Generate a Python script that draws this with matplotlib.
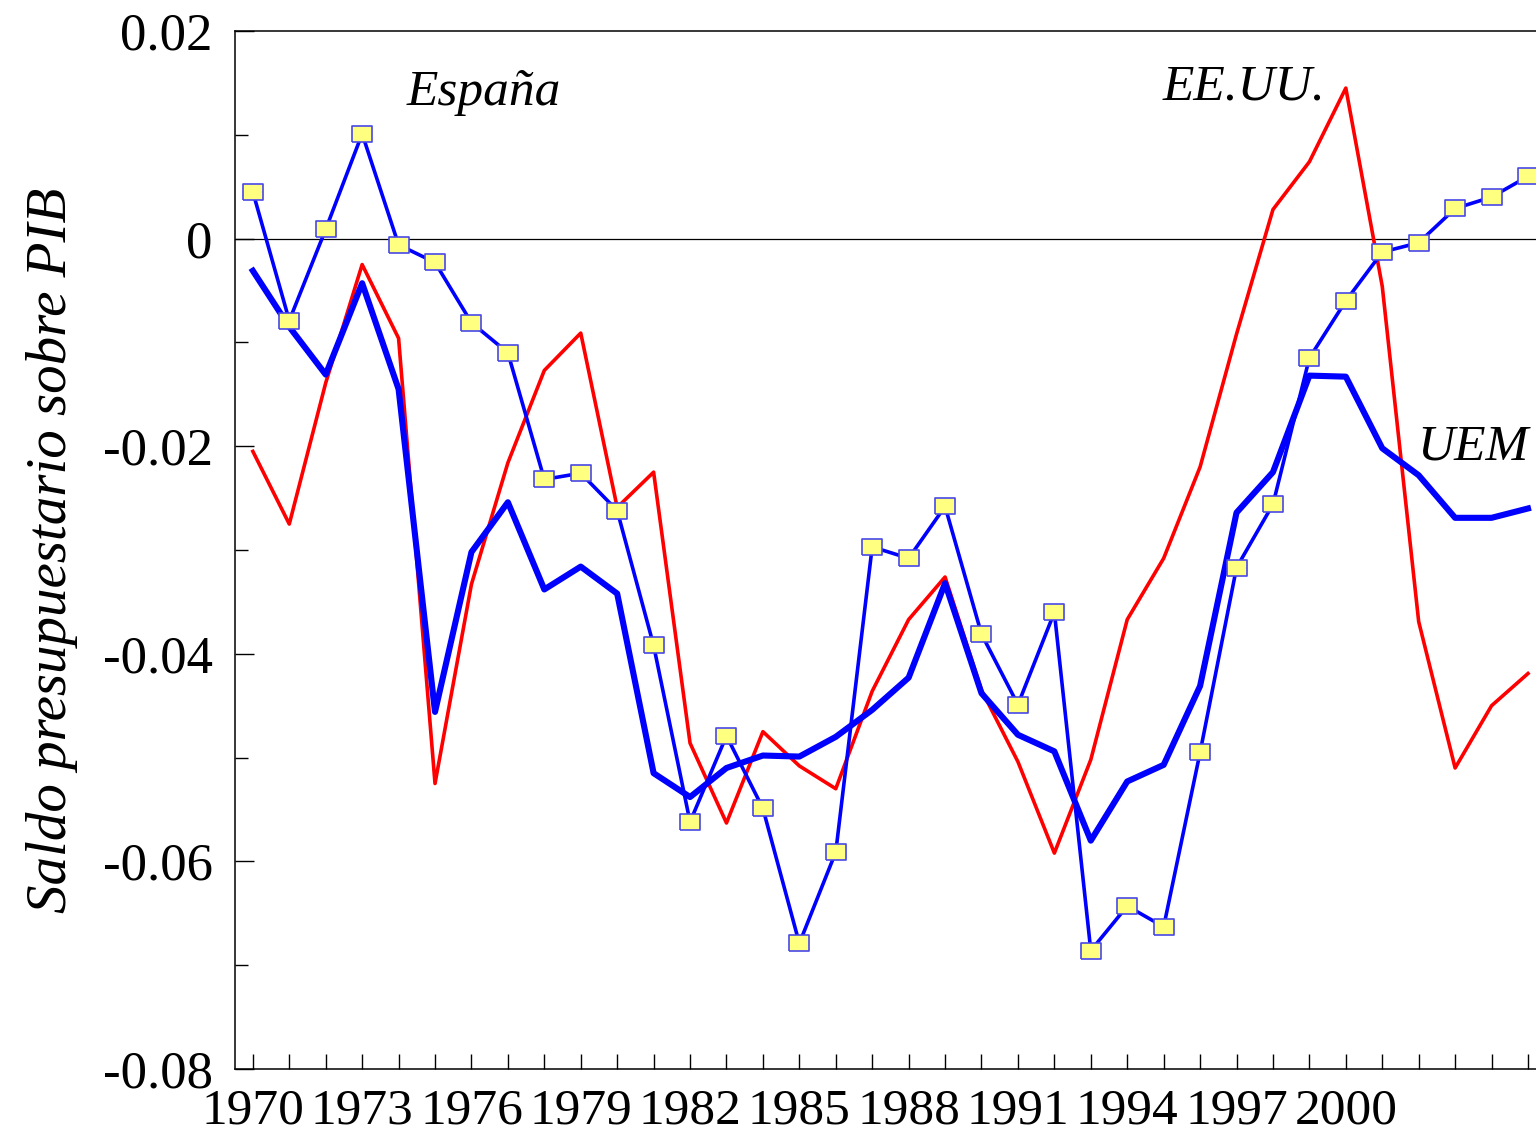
import matplotlib
matplotlib.use('Agg')
import matplotlib.pyplot as plt
from matplotlib.ticker import MultipleLocator, FixedLocator

years = list(range(1970, 2006))

espana = [0.0045, -0.0079, 0.0009, 0.0101, -0.0006, -0.0023, -0.0081, -0.0110,
          -0.0232, -0.0226, -0.0262, -0.0392, -0.0562, -0.0479, -0.0549, -0.0679,
          -0.0591, -0.0297, -0.0308, -0.0258, -0.0381, -0.0449, -0.0360, -0.0686,
          -0.0643, -0.0663, -0.0495, -0.0317, -0.0256, -0.0115, -0.0060, -0.0013,
          -0.0004, 0.0029, 0.0040, 0.0060]

uem = [-0.0031, -0.0085, -0.0131, -0.0043, -0.0145, -0.0456, -0.0302, -0.0254,
       -0.0338, -0.0316, -0.0342, -0.0515, -0.0538, -0.0510, -0.0498, -0.0499,
       -0.0480, -0.0454, -0.0423, -0.0332, -0.0438, -0.0478, -0.0494, -0.0580,
       -0.0523, -0.0507, -0.0431, -0.0264, -0.0225, -0.0132, -0.0133, -0.0202,
       -0.0228, -0.0269, -0.0269, -0.0260]

eeuu = [-0.0205, -0.0275, -0.0139, -0.0025, -0.0096, -0.0525, -0.0333, -0.0216,
        -0.0127, -0.0091, -0.0259, -0.0225, -0.0486, -0.0563, -0.0475, -0.0508,
        -0.0530, -0.0436, -0.0367, -0.0326, -0.0435, -0.0504, -0.0592, -0.0502,
        -0.0367, -0.0308, -0.0220, -0.0092, 0.0028, 0.0074, 0.0145, -0.0046,
        -0.0369, -0.0510, -0.0450, -0.0419]

xtick_years = list(range(1970, 2001, 3))

plt.rcParams['font.family'] = ['Liberation Serif', 'DejaVu Serif']

fig = plt.figure(figsize=(15.36, 11.38), dpi=100)
ax = fig.add_axes([235 / 1536, 1 - 1069 / 1138, 1 - 235 / 1536, (1069 - 31) / 1138])

# marcador rectangular (mas ancho que alto)
rect = [(-1.3, -1), (1.3, -1), (1.3, 1), (-1.3, 1), (-1.3, -1)]

ax.axhline(0, color='black', lw=0.9, zorder=1)
ax.plot(years, eeuu, color='#ff0000', lw=2.6, zorder=2)
ax.plot(years, uem, color='#0000ff', lw=4.4, zorder=3)
ax.plot(years, espana, color='#0000ff', lw=2.6, marker=rect, markersize=14.5,
        markerfacecolor='#ffff80', markeredgecolor='#4848e8', markeredgewidth=1.2,
        zorder=4)

ax.set_xlim(1969.51, 2005.22)
ax.set_ylim(-0.08, 0.02)

ax.xaxis.set_major_locator(FixedLocator(xtick_years))
ax.set_xticklabels([str(y) for y in xtick_years])
ax.xaxis.set_minor_locator(MultipleLocator(1))
ax.yaxis.set_major_locator(MultipleLocator(0.02))
ax.yaxis.set_minor_locator(MultipleLocator(0.01))
ax.yaxis.set_major_formatter(matplotlib.ticker.FuncFormatter(
    lambda v, p: '0' if abs(v) < 1e-9 else ('%.2f' % v)))

ax.tick_params(axis='x', which='both', direction='in', length=11, width=1,
               labelsize=37, pad=14, top=False)
ax.tick_params(axis='y', which='major', direction='in', length=14, width=1,
               labelsize=38, pad=16, right=False)
ax.tick_params(axis='y', which='minor', direction='in', length=9, width=1,
               right=False)

ax.spines['right'].set_visible(False)
for s in ['left', 'bottom', 'top']:
    ax.spines[s].set_linewidth(1.1)

ax.set_ylabel('Saldo presupuestario sobre PIB', fontsize=41, style='italic',
              labelpad=18)

ax.text(1974.23, 0.0129, 'España', fontsize=37, style='italic', ha='left',
        va='baseline')
ax.text(1994.98, 0.0134, 'EE.UU.', fontsize=37, style='italic', ha='left',
        va='baseline')
ax.text(2001.95, -0.0213, 'UEM', fontsize=37, style='italic', ha='left',
        va='baseline')

fig.savefig('out.png', dpi=100)
